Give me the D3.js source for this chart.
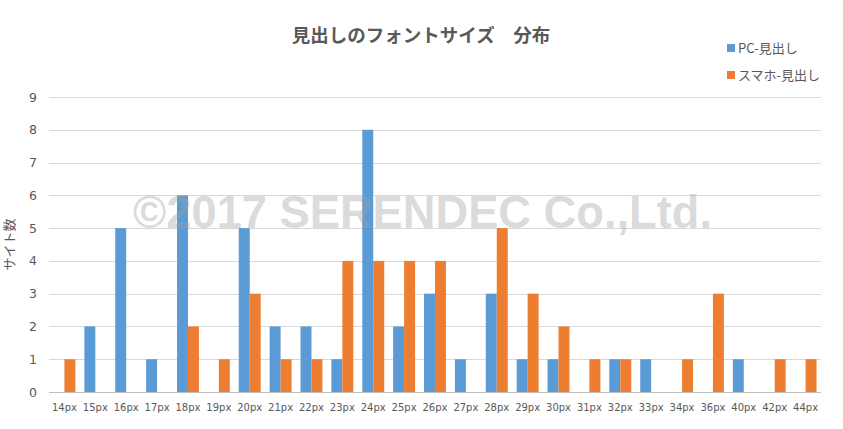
<!DOCTYPE html>
<html><head><meta charset="utf-8">
<script src="https://cdn.jsdelivr.net/npm/d3@7"></script>
<style>body{margin:0;background:#fff}svg{display:block}</style>
</head><body>
<svg id="c" width="843" height="429"></svg>
<script>
const categories = ["14px","15px","16px","17px","18px","19px","20px","21px","22px","23px","24px","25px","26px","27px","28px","29px","30px","31px","32px","33px","34px","36px","40px","42px","44px"];
const pcValues = [0,2,5,1,6,0,5,2,2,1,8,2,3,1,3,1,1,0,1,1,0,0,1,0,0];
const spValues = [1,0,0,0,2,1,3,1,1,4,4,4,4,0,5,3,2,1,1,0,1,3,0,1,1];
const seriesNames = ["PC-見出し","スマホ-見出し"];
const colors = ["#5b9bd5","#ed7d31"];
const yTicks = [0,1,2,3,4,5,6,7,8,9];
const title = "見出しのフォントサイズ　分布";
const yTitle = "サイト数";
const watermark = "©2017 SERENDEC Co.,Ltd.";

const font = "'DejaVu Sans', 'Noto Sans CJK JP', sans-serif";
const jfont = "'Noto Sans CJK JP', sans-serif";
const svg = d3.select("#c");
const m = {left:49, right:22, top:97, bottom:37};
const W = 843, H = 429;
const x0 = d3.scaleBand().domain(categories).range([m.left, W-m.right]).paddingInner(0.29).paddingOuter(0.145);
const x1 = d3.scaleBand().domain([0,1]).range([0, x0.bandwidth()]);
const y = d3.scaleLinear().domain([0,9]).range([H-m.bottom, m.top]);

// gridlines
svg.append("g").selectAll("line").data(yTicks.filter(d=>d>0)).join("line")
  .attr("x1", m.left).attr("x2", W-m.right)
  .attr("y1", d=>Math.round(y(d))+0.5).attr("y2", d=>Math.round(y(d))+0.5)
  .attr("stroke","#d9d9d9").attr("stroke-width",1);

// y tick labels
svg.append("g").selectAll("text").data(yTicks).join("text")
  .attr("x", 37).attr("y", d=>y(d)).attr("dy","0.36em")
  .attr("text-anchor","end").attr("font-family",font).attr("font-size",12.5).attr("fill","#595959")
  .text(d=>d);

// bars
const groups = svg.append("g").selectAll("g").data(categories).join("g")
  .attr("transform", d=>`translate(${x0(d)},0)`);
groups.selectAll("rect").data((d,i)=>[pcValues[i], spValues[i]]).join("rect")
  .attr("x",(d,j)=>x1(j)).attr("width", x1.bandwidth())
  .attr("y", d=>y(d)).attr("height", d=>y(0)-y(d))
  .attr("fill",(d,j)=>colors[j]);

// axis baseline
svg.append("line").attr("x1",m.left).attr("x2",W-m.right)
  .attr("y1",Math.round(y(0))+0.5).attr("y2",Math.round(y(0))+0.5)
  .attr("stroke","#bfbfbf").attr("stroke-width",1);

// x labels
const xAxis = d3.axisBottom(x0).tickSize(0).tickPadding(12);
const xg = svg.append("g").attr("transform",`translate(0,${y(0)})`).call(xAxis);
xg.select(".domain").remove();
xg.selectAll("text").attr("font-family",font).attr("font-size",10).attr("fill","#595959");

// y title
svg.append("text").attr("transform",`translate(14,${y(4.5)}) rotate(-90)`)
  .attr("text-anchor","middle").attr("font-family",jfont).attr("font-size",13).attr("fill","#595959")
  .text(yTitle);

// title
svg.append("text").attr("x",421).attr("y",42).attr("text-anchor","middle")
  .attr("font-family",jfont).attr("font-size",18.5).attr("font-weight","bold").attr("fill","#595959")
  .text(title);

// legend
const lg = svg.append("g").selectAll("g").data(seriesNames).join("g")
  .attr("transform",(d,i)=>`translate(727,${44+i*27})`);
lg.append("rect").attr("width",8).attr("height",8).attr("fill",(d,i)=>colors[i]);
lg.append("text").attr("x",11).attr("y",4).attr("dy","0.38em")
  .attr("font-family",jfont).attr("font-size",13).attr("fill","#595959").text(d=>d);

// watermark
svg.append("text").attr("x",133).attr("y",228)
  .attr("font-family","'Liberation Sans', Arial, sans-serif").attr("font-weight","bold").attr("font-size",46)
  .attr("textLength",579).attr("lengthAdjust","spacingAndGlyphs")
  .attr("fill","#a0a0a0").attr("fill-opacity",0.4)
  .text(watermark);
</script>
</body></html>
